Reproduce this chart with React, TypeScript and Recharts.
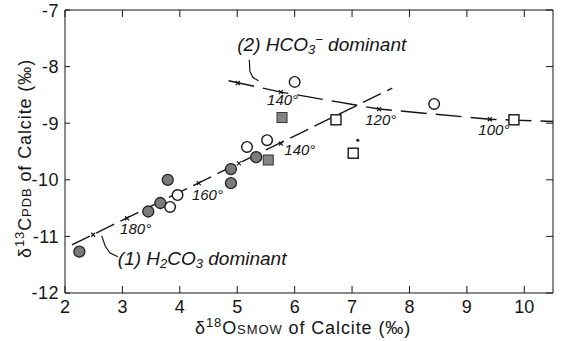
import { ScatterChart, Scatter, XAxis, YAxis } from 'recharts';

// measured points (δ18O, δ13C)
const filledCircles = [
  { x: 2.25, y: -11.27 },
  { x: 3.45, y: -10.56 },
  { x: 3.66, y: -10.41 },
  { x: 3.79, y: -10.0 },
  { x: 4.89, y: -9.81 },
  { x: 4.89, y: -10.06 },
  { x: 5.33, y: -9.6 },
];
const openCircles = [
  { x: 3.83, y: -10.48 },
  { x: 3.96, y: -10.27 },
  { x: 5.17, y: -9.42 },
  { x: 5.52, y: -9.3 },
  { x: 6.0, y: -8.27 },
  { x: 8.43, y: -8.66 },
];
const openSquares = [
  { x: 6.72, y: -8.94 },
  { x: 7.02, y: -9.53 },
  { x: 9.82, y: -8.94 },
];
const filledSquares = [
  { x: 5.54, y: -9.65 },
  { x: 5.78, y: -8.9 },
];
const smallDots = [{ x: 7.1, y: -9.3 }];

// equilibrium lines
const h2co3Line = [
  { x: 2.12, y: -11.15 },
  { x: 7.7, y: -8.38 },
];
const hco3Line = [
  { x: 4.85, y: -8.25 },
  { x: 5.76, y: -8.45 },
  { x: 7.47, y: -8.75 },
  { x: 9.4, y: -8.93 },
  { x: 10.5, y: -8.97 },
];
const tempMarks = [
  { x: 2.49, y: -10.97 },
  { x: 3.08, y: -10.68 },
  { x: 4.33, y: -10.06 },
  { x: 5.03, y: -9.71 },
  { x: 5.76, y: -9.36 },
  { x: 5.01, y: -8.29 },
  { x: 5.76, y: -8.45 },
  { x: 7.47, y: -8.75 },
  { x: 9.4, y: -8.93 },
];
const tempLabels = [
  { x: 2.96, y: -10.96, label: '180°' },
  { x: 4.21, y: -10.36, label: '160°' },
  { x: 5.82, y: -9.56, label: '140°' },
  { x: 5.52, y: -8.68, label: '140°' },
  { x: 7.23, y: -9.03, label: '120°' },
  { x: 9.2, y: -9.21, label: '100°' },
];
const arrow1 = [
  { x: 2.64, y: -10.99 },
  { x: 2.7, y: -11.17 },
  { x: 2.78, y: -11.29 },
  { x: 2.92, y: -11.36 },
];
const arrow2 = [
  { x: 5.21, y: -7.88 },
  { x: 5.22, y: -8.08 },
  { x: 5.27, y: -8.19 },
  { x: 5.37, y: -8.25 },
];
const h2co3Title = [{ x: 2.92, y: -11.5 }];
const hco3Title = [{ x: 5.0, y: -7.72 }];

const xTicks = [2, 3, 4, 5, 6, 7, 8, 9, 10];
const yTicks = [-12, -11, -10, -9, -8, -7];

const FONT = '"Liberation Sans", Arial, sans-serif';
const INK = '#151515';

const none = () => <g />;

export default function App() {
  return (
    <div style={{ position: 'absolute', left: 0, top: 0, background: '#fff' }}>
      <ScatterChart width={563} height={341} margin={{ top: 10, right: 10, bottom: 18, left: 5 }}>
        <XAxis
          xAxisId="b"
          type="number"
          dataKey="x"
          domain={[2, 10.5]}
          ticks={xTicks}
          allowDataOverflow
          height={30}
          tickSize={-7}
          tickMargin={14}
          stroke={INK}
          tick={{ fontSize: 18, fill: INK, fontFamily: FONT }}
        />
        <XAxis
          xAxisId="t"
          orientation="top"
          type="number"
          dataKey="x"
          domain={[2, 10.5]}
          ticks={xTicks}
          allowDataOverflow
          mirror
          tickSize={7}
          stroke={INK}
          tickFormatter={() => ''}
        />
        <YAxis
          yAxisId="l"
          type="number"
          dataKey="y"
          domain={[-12, -7]}
          ticks={yTicks}
          allowDataOverflow
          width={60}
          tickSize={-5}
          tickMargin={11}
          stroke={INK}
          tick={{ fontSize: 18, fill: INK, fontFamily: FONT, letterSpacing: 0.5 }}
        />
        <YAxis
          yAxisId="r"
          orientation="right"
          type="number"
          dataKey="y"
          domain={[-12, -7]}
          ticks={yTicks}
          allowDataOverflow
          mirror
          tickSize={7}
          stroke={INK}
          tickFormatter={() => ''}
        />

        <Scatter
          xAxisId="b"
          yAxisId="l"
          data={h2co3Line}
          line={{ stroke: INK, strokeWidth: 1.4, strokeDasharray: '20 7' }}
          lineType="joint"
          shape={none}
          isAnimationActive={false}
        />
        <Scatter
          xAxisId="b"
          yAxisId="l"
          data={hco3Line}
          line={{ stroke: INK, strokeWidth: 1.4, strokeDasharray: '26 9' }}
          lineType="joint"
          shape={none}
          isAnimationActive={false}
        />
        <Scatter
          xAxisId="b"
          yAxisId="l"
          data={arrow1}
          line={{ stroke: INK, strokeWidth: 1.2 }}
          lineType="joint"
          shape={none}
          isAnimationActive={false}
        />
        <Scatter
          xAxisId="b"
          yAxisId="l"
          data={arrow2}
          line={{ stroke: INK, strokeWidth: 1.2 }}
          lineType="joint"
          shape={none}
          isAnimationActive={false}
        />
        <Scatter
          xAxisId="b"
          yAxisId="l"
          data={tempMarks}
          isAnimationActive={false}
          shape={(p: any) => (
            <path
              d={`M${p.cx - 2},${p.cy - 2}L${p.cx + 2},${p.cy + 2}M${p.cx - 2},${p.cy + 2}L${p.cx + 2},${p.cy - 2}`}
              stroke={INK}
              strokeWidth={1.2}
            />
          )}
        />
        <Scatter
          xAxisId="b"
          yAxisId="l"
          data={tempLabels}
          isAnimationActive={false}
          shape={(p: any) => (
            <text x={p.cx} y={p.cy} fontSize={15} fontStyle="italic" fontFamily={FONT} fill={INK}>
              {p.payload.label}
            </text>
          )}
        />
        <Scatter
          xAxisId="b"
          yAxisId="l"
          data={h2co3Title}
          isAnimationActive={false}
          shape={(p: any) => (
            <text x={p.cx} y={p.cy} fontSize={19} fontStyle="italic" fontFamily={FONT} fill={INK}>
              (1) H<tspan fontSize={13} dy={3}>2</tspan>
              <tspan dy={-3}>CO</tspan>
              <tspan fontSize={13} dy={3}>3</tspan>
              <tspan dy={-3}> dominant</tspan>
            </text>
          )}
        />
        <Scatter
          xAxisId="b"
          yAxisId="l"
          data={hco3Title}
          isAnimationActive={false}
          shape={(p: any) => (
            <text x={p.cx} y={p.cy} fontSize={19} fontStyle="italic" fontFamily={FONT} fill={INK}>
              (2)  HCO<tspan fontSize={13} dy={3}>3</tspan>
              <tspan fontSize={13} dy={-10}>−</tspan>
              <tspan dy={7}> dominant</tspan>
            </text>
          )}
        />

        <Scatter
          xAxisId="b"
          yAxisId="l"
          data={filledSquares}
          isAnimationActive={false}
          shape={(p: any) => (
            <rect x={p.cx - 5} y={p.cy - 5} width={10} height={10} fill="#858585" stroke="#333" strokeWidth={1} />
          )}
        />
        <Scatter
          xAxisId="b"
          yAxisId="l"
          data={openSquares}
          isAnimationActive={false}
          shape={(p: any) => (
            <rect x={p.cx - 5} y={p.cy - 5} width={10} height={10} fill="#fff" stroke={INK} strokeWidth={1.4} />
          )}
        />
        <Scatter
          xAxisId="b"
          yAxisId="l"
          data={openCircles}
          isAnimationActive={false}
          shape={(p: any) => <circle cx={p.cx} cy={p.cy} r={5.3} fill="#fff" stroke={INK} strokeWidth={1.4} />}
        />
        <Scatter
          xAxisId="b"
          yAxisId="l"
          data={filledCircles}
          isAnimationActive={false}
          shape={(p: any) => <circle cx={p.cx} cy={p.cy} r={5.5} fill="#7a7a7a" stroke="#222" strokeWidth={1.3} />}
        />
        <Scatter
          xAxisId="b"
          yAxisId="l"
          data={smallDots}
          isAnimationActive={false}
          shape={(p: any) => <circle cx={p.cx} cy={p.cy} r={1.5} fill={INK} />}
        />

        <text x={195} y={334} fontSize={18} letterSpacing={0.9} fontFamily={FONT} fill={INK}>
          δ<tspan fontSize={13} dy={-7}>18</tspan>
          <tspan dy={7}>O</tspan>
          <tspan fontSize={13}>SMOW</tspan> of Calcite  (‰)
        </text>
        <text
          transform="translate(31,258) rotate(-90)"
          x={0}
          y={0}
          fontSize={18}
          letterSpacing={0.9}
          fontFamily={FONT}
          fill={INK}
        >
          δ<tspan fontSize={13} dy={-7}>13</tspan>
          <tspan dy={7}>C</tspan>
          <tspan fontSize={13}>PDB</tspan> of Calcite  (‰)
        </text>
      </ScatterChart>
    </div>
  );
}
